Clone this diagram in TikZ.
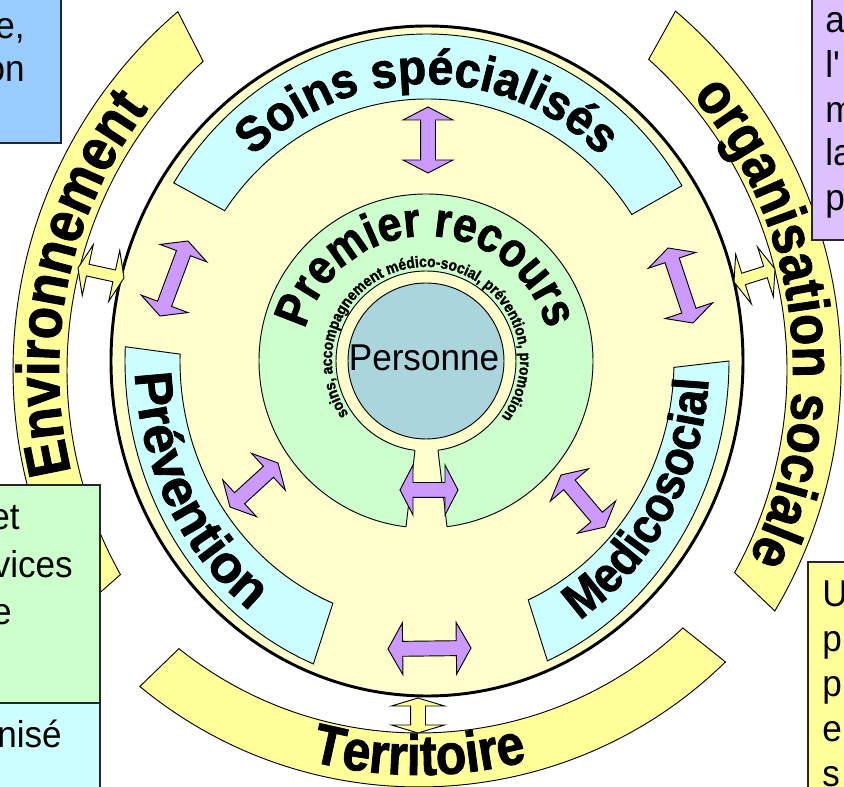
\documentclass[tikz,border=0pt]{standalone}
\usepackage{fontspec}
\setmainfont{Liberation Sans}[FakeStretch=0.94]
\newfontfamily\hfont{Liberation Sans}[FakeStretch=0.94, BoldFeatures={FakeBold=1.6}]
\newfontfamily\vfont{Liberation Sans}[BoldFeatures={FakeBold=1.6}]
\newfontfamily\nfont{Liberation Sans}[FakeStretch=0.9, BoldFeatures={FakeBold=1.6}]
\newfontfamily\tfont{Liberation Sans}[FakeStretch=0.88, BoldFeatures={FakeBold=1.6}]
\usetikzlibrary{calc,decorations.text}

\definecolor{bandyellow}{HTML}{FFFF99}
\definecolor{paleyellow}{HTML}{FFFFCC}
\definecolor{palecyan}{HTML}{CCFFFF}
\definecolor{palegreen}{HTML}{CCFFCC}
\definecolor{personblue}{HTML}{AAD5DD}
\definecolor{arrowpurple}{HTML}{CC99FF}
\definecolor{boxblue}{HTML}{99CCFF}
\definecolor{boxlavender}{HTML}{DDC0FF}

% double-headed block arrow: #1 style, #2 A, #3 B, #4 head length, #5 half head width, #6 half shaft width
\newcommand\dblarrow[6]{%
  \draw[#1] (#2)
    -- ($(#2)!#4!(#3)!#5!90:(#3)$)
    -- ($(#2)!#4!(#3)!#6!90:(#3)$)
    -- ($(#3)!#4!(#2)!#6!-90:(#2)$)
    -- ($(#3)!#4!(#2)!#5!-90:(#2)$)
    -- (#3)
    -- ($(#3)!#4!(#2)!#5!90:(#2)$)
    -- ($(#3)!#4!(#2)!#6!90:(#2)$)
    -- ($(#2)!#4!(#3)!#6!-90:(#3)$)
    -- ($(#2)!#4!(#3)!#5!-90:(#3)$)
    -- cycle;}

\begin{document}
\begin{tikzpicture}[x=0.75pt, y=0.75pt,
  band/.style={draw=black, line width=0.7pt, fill=bandyellow},
  inband/.style={draw=black, line width=0.7pt, fill=palecyan},
  parrow/.style={draw=black, line width=0.7pt, fill=arrowpurple, line join=miter},
  yarrow/.style={draw=black, line width=0.7pt, fill=bandyellow, line join=miter},
  boxframe/.style={draw=black!85, line width=0.9pt},
  boxtext/.style={font=\fontsize{28}{34}\selectfont, inner sep=0pt},
]
\useasboundingbox (0,0) rectangle (844,-787);
\fill[white] (0,0) rectangle (844,-787);
\clip (0,0) rectangle (844,-787);

% centres
\coordinate (cc) at (427,-361);
\coordinate (gc) at (426,-361);
\coordinate (envc) at (485,-370);
\coordinate (orgc) at (369,-370);
\coordinate (terc) at (419,-349);

% outer bands
\draw[band] ($(envc)+(130.6:472)$) arc[start angle=130.6, end angle=210.7, radius=472]
  -- ($(envc)+(209.3:418)$) arc[start angle=209.3, end angle=132.4, radius=418] -- cycle;
\draw[band] ($(orgc)+(49.5:472)$) arc[start angle=49.5, end angle=-30.7, radius=472]
  -- ($(orgc)+(-29:418)$) arc[start angle=-29, end angle=48, radius=418] -- cycle;
\draw[band] ($(terc)+(230.4:438)$) arc[start angle=230.4, end angle=314.4, radius=438]
  -- ($(terc)+(313.4:384)$) arc[start angle=313.4, end angle=231.3, radius=384] -- cycle;

% main ellipse
\draw[line width=2.2pt, fill=paleyellow] (cc) ellipse[x radius=316, y radius=335];

% cyan bands
\draw[inband] ($(cc)+(147:302 and 327)$) arc[start angle=147, end angle=32.4, x radius=302, y radius=327]
  -- ($(cc)+(34:247 and 262)$) arc[start angle=34, end angle=145, x radius=247, y radius=262] -- cycle;
\draw[inband] ($(cc)+(177.5:302 and 327)$) arc[start angle=177.5, end angle=247.9, x radius=302, y radius=327]
  -- ($(cc)+(247.6:247 and 262)$) arc[start angle=247.6, end angle=178.5, x radius=247, y radius=262] -- cycle;
\draw[inband] ($(cc)+(-66.5:302 and 327)$) arc[start angle=-66.5, end angle=0, x radius=302, y radius=327]
  -- ($(cc)+(-1.4:247 and 262)$) arc[start angle=-1.4, end angle=-65.8, x radius=247, y radius=262] -- cycle;

% green ring, hole and person
\draw[line width=0.7pt, fill=palegreen] (gc) circle[radius=167];
\draw[line width=0.7pt, fill=paleyellow] (gc) circle[radius=90];
\draw[line width=0.7pt, fill=personblue] (gc) circle[radius=78];
\fill[paleyellow] (416.2,-441) -- (436.8,-441) -- (448,-535) -- (405,-535) -- cycle;
\draw[line width=0.7pt] (415,-450.3) -- (406,-526.8);
\draw[line width=0.7pt] (438,-450.2) -- (447,-526.7);

% arrows
\coordinate (p1a) at (428,-107); \coordinate (p1b) at (428,-173);
\coordinate (p2a) at (188,-241); \coordinate (p2b) at (160,-316);
\coordinate (p3a) at (668,-248); \coordinate (p3b) at (693,-323);
\coordinate (p4a) at (230,-507); \coordinate (p4b) at (278,-463);
\coordinate (p5a) at (561,-475); \coordinate (p5b) at (605,-527);
\coordinate (p6a) at (400,-490); \coordinate (p6b) at (458,-490);
\coordinate (p7a) at (388,-649); \coordinate (p7b) at (471,-648);
\coordinate (y1a) at (78,-268);  \coordinate (y1b) at (124,-278);
\coordinate (y2a) at (734,-282); \coordinate (y2b) at (775,-269);
\coordinate (y3a) at (418,-698); \coordinate (y3b) at (418,-733);

\dblarrow{parrow}{p1a}{p1b}{9.75pt}{18.75pt}{5.6pt}
\dblarrow{parrow}{p2a}{p2b}{9.75pt}{18.75pt}{5.6pt}
\dblarrow{parrow}{p3a}{p3b}{9.75pt}{18.75pt}{5.6pt}
\dblarrow{parrow}{p4a}{p4b}{9.75pt}{18.75pt}{5.6pt}
\dblarrow{parrow}{p5a}{p5b}{9.75pt}{18.75pt}{5.6pt}
\dblarrow{parrow}{p6a}{p6b}{9.75pt}{18.75pt}{5.6pt}
\dblarrow{parrow}{p7a}{p7b}{11pt}{19.5pt}{5.6pt}
\dblarrow{yarrow}{y1a}{y1b}{7.5pt}{19.5pt}{4.5pt}
\dblarrow{yarrow}{y2a}{y2b}{7.5pt}{19.5pt}{4.5pt}
\dblarrow{yarrow}{y3a}{y3b}{6pt}{19.9pt}{5.6pt}

% curved texts
\path[decorate, decoration={text along path, text align=center,
  text={|\tfont\bfseries\fontsize{45}{45}\selectfont|Environnement}}]
  ($(envc)+(213:426)$) arc[start angle=213, end angle=123, radius=426];
\path[decorate, decoration={text along path, text align=center,
  text={|\tfont\bfseries\fontsize{43.5}{44}\selectfont|organisation sociale}}]
  ($(orgc)+(52:424)$) arc[start angle=52, end angle=-38, radius=424];
\path[decorate, decoration={text along path, text align=center,
  text={|\tfont\bfseries\fontsize{42.5}{43}\selectfont|Territoire}}]
  ($(terc)+(225:426)$) arc[start angle=225, end angle=315, radius=426];
\path[decorate, decoration={text along path, text align=center,
  text={|\hfont\bfseries\fontsize{37}{37}\selectfont|Soins spécialisés}}]
  ($(cc)+(180:258 and 277)$) arc[start angle=180, end angle=0, x radius=258, y radius=277];
\path[decorate, decoration={text along path, text align=center,
  text={|\vfont\bfseries\fontsize{39.5}{40}\selectfont|Prévention}}]
  ($(cc)+(163:292 and 314)$) arc[start angle=163, end angle=253, x radius=292, y radius=314];
\path[decorate, decoration={text along path, text align=center,
  text={|\nfont\bfseries\fontsize{37.5}{38}\selectfont|Medicosocial}}]
  ($(cc)+(-76:282 and 308)$) arc[start angle=-76, end angle=14, x radius=282, y radius=308];
\path[decorate, decoration={text along path, text align=center,
  text={|\tfont\bfseries\fontsize{36.5}{37}\selectfont|Premier recours}}]
  ($(gc)+(180:125)$) arc[start angle=180, end angle=0, radius=125];
\path[decorate, decoration={text along path, text align=center,
  text={|\tfont\bfseries\fontsize{11.8}{12}\selectfont|soins, accompagnement médico-social, prévention, promotion}}]
  ($(gc)+(239:94)$) arc[start angle=239, end angle=-61, radius=94];

\node[font=\fontsize{28}{30}\selectfont, inner sep=0pt] (personne) at (424,-358) {Personne};

% side boxes (cropped)
\draw[boxframe, fill=boxblue] (-10,10) rectangle (61,-143);
\draw[boxframe, fill=boxlavender] (812,10) rectangle (860,-240);
\draw[boxframe, fill=palegreen] (-10,-485) rectangle (100,-703);
\draw[boxframe, fill=palecyan] (-10,-703) rectangle (100,-800);
\draw[boxframe, fill=bandyellow] (808,-562) rectangle (860,-800);

\node[boxtext, anchor=base east] (b1) at (25,-39) {e,};
\node[boxtext, anchor=base east] (b2) at (25,-82) {on};
\node[boxtext, anchor=base west] (v1) at (825,-33) {a};
\node[boxtext, anchor=base west] (v2) at (825,-78) {l\XeTeXglyph\XeTeXcharglyph"27};
\node[boxtext, anchor=base west] (v3) at (825,-123) {m};
\node[boxtext, anchor=base west] (v4) at (825,-166) {la};
\node[boxtext, anchor=base west] (v5) at (825,-211) {p};
\node[boxtext, anchor=base east] (g1) at (20,-530) {et};
\node[boxtext, anchor=base east] (g2) at (73,-578) {vices};
\node[boxtext, anchor=base east] (g3) at (12,-625) {e};
\node[boxtext, anchor=base east] (c1) at (62,-748) {nisé};
\node[boxtext, anchor=base west] (u1) at (822,-607) {U};
\node[boxtext, anchor=base west] (u2) at (822,-652) {p};
\node[boxtext, anchor=base west] (u3) at (822,-697) {p};
\node[boxtext, anchor=base west] (u4) at (822,-742) {e};
\node[boxtext, anchor=base west] (u5) at (822,-787) {s};
\end{tikzpicture}
\end{document}
